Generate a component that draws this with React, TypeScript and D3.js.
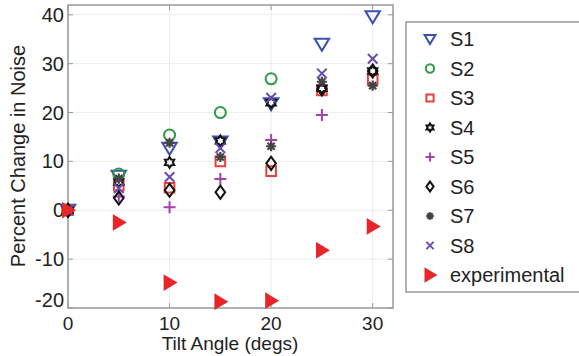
import React from "react";
import * as d3 from "d3";

const angles = [0, 5, 10, 15, 20, 25, 30];
const s1 = [0, 7, 12.7, 14, 21.8, 34, 39.6];
const s2 = [0, 7.4, 15.4, 20, 26.9, null, null];
const s3 = [0, 5, 4.6, 10, 8, 24.5, 26.7];
const s4 = [0, 5.8, 9.8, 14.2, 22, 25, 28.5];
const s5 = [0, 2.8, 0.6, 6.4, 14.4, 19.5, null];
const s6 = [0, 2.5, 4.1, 3.7, 9.6, 24.8, 28.5];
const s7 = [0, 6.5, 13.8, 10.9, 13.1, 26.3, 25.5];
const s8 = [0, 4.5, 6.8, 12.7, 23, 28, 31];
const experimental = [0, -2.5, -14.8, -18.7, -18.5, -8.2, -3.3];

const seriesNames = ["S1", "S2", "S3", "S4", "S5", "S6", "S7", "S8", "experimental"];
const seriesValues = [s1, s2, s3, s4, s5, s6, s7, s8, experimental];
const seriesColors = ["#3a4fb0", "#2f9a47", "#e8403a", "#111111", "#a640b0", "#111111", "#444444", "#6a4caf", "#e8262a"];
const seriesShapes = ["triDown", "circle", "square", "hexagram", "plus", "diamond", "star", "x", "triRight"];

const xTicks = [0, 10, 20, 30];
const yTicks = [-20, -10, 0, 10, 20, 30, 40];

function markerPath(shape: string, s: number): string {
  const p = d3.path();
  if (shape === "triDown") {
    p.moveTo(-s * 0.6, -s * 0.45); p.lineTo(s * 0.6, -s * 0.45); p.lineTo(0, s * 0.55); p.closePath();
  } else if (shape === "triRight") {
    p.moveTo(-s * 0.45, -s * 0.6); p.lineTo(s * 0.55, 0); p.lineTo(-s * 0.45, s * 0.6); p.closePath();
  } else if (shape === "circle") {
    p.arc(0, 0, s * 0.46, 0, Math.PI * 2);
  } else if (shape === "square") {
    const h = s * 0.4; p.rect(-h, -h, 2 * h, 2 * h);
  } else if (shape === "diamond") {
    p.moveTo(0, -s * 0.55); p.lineTo(s * 0.4, 0); p.lineTo(0, s * 0.55); p.lineTo(-s * 0.4, 0); p.closePath();
  } else if (shape === "plus") {
    const h = s * 0.5; p.moveTo(-h, 0); p.lineTo(h, 0); p.moveTo(0, -h); p.lineTo(0, h);
  } else if (shape === "x") {
    const h = s * 0.4; p.moveTo(-h, -h); p.lineTo(h, h); p.moveTo(-h, h); p.lineTo(h, -h);
  } else if (shape === "star") {
    const h = s * 0.42;
    for (let k = 0; k < 4; k++) {
      const a = (k * Math.PI) / 4;
      p.moveTo(-h * Math.cos(a), -h * Math.sin(a)); p.lineTo(h * Math.cos(a), h * Math.sin(a));
    }
  } else if (shape === "hexagram") {
    const ro = s * 0.45, ri = s * 0.27;
    for (let k = 0; k < 12; k++) {
      const a = -Math.PI / 2 + (k * Math.PI) / 6;
      const r = k % 2 === 0 ? ro : ri;
      if (k === 0) p.moveTo(r * Math.cos(a), r * Math.sin(a)); else p.lineTo(r * Math.cos(a), r * Math.sin(a));
    }
    p.closePath();
  }
  return p.toString();
}

function Marker({ shape, color, x, y, s }: { shape: string; color: string; x: number; y: number; s: number }) {
  const filled = shape === "triRight";
  return (
    <path
      d={markerPath(shape, s)}
      transform={`translate(${x},${y})`}
      fill={filled ? color : "none"}
      stroke={color}
      strokeWidth={shape === "star" ? 2.2 : 2}
      strokeLinejoin="miter"
    />
  );
}

export default function App() {
  const W = 579, H = 356;
  const left = 68, right = 393, top = 5, bottom = 308;
  const x = d3.scaleLinear().domain([0, 32]).range([left, right]);
  const y = d3.scaleLinear().domain([-20, 42]).range([bottom, top]);
  const font = "'Liberation Sans', Arial, Helvetica, sans-serif";
  const tickLen = 5;

  return (
    <svg width={W} height={H} style={{ position: "absolute", left: 0, top: 0, background: "#fff" }} fontFamily={font}>
      <rect x={0} y={0} width={W} height={H} fill="#fff" />
      {xTicks.map((t) => (
        <line key={"gx" + t} x1={x(t)} x2={x(t)} y1={top} y2={bottom} stroke="#ececec" strokeWidth={1} />
      ))}
      {yTicks.map((t) => (
        <line key={"gy" + t} x1={left} x2={right} y1={y(t)} y2={y(t)} stroke="#ececec" strokeWidth={1} />
      ))}
      {xTicks.map((t) => (
        <g key={"tx" + t}>
          <line x1={x(t)} x2={x(t)} y1={bottom} y2={bottom - tickLen} stroke="#999" strokeWidth={1} />
          <line x1={x(t)} x2={x(t)} y1={top} y2={top + tickLen} stroke="#999" strokeWidth={1} />
          <text x={x(t)} y={330} textAnchor="middle" fontSize={19} fill="#222">{t}</text>
        </g>
      ))}
      {yTicks.map((t) => (
        <g key={"ty" + t}>
          <line x1={left} x2={left + tickLen} y1={y(t)} y2={y(t)} stroke="#999" strokeWidth={1} />
          <line x1={right} x2={right - tickLen} y1={y(t)} y2={y(t)} stroke="#999" strokeWidth={1} />
          <text x={left - 4} y={t === -20 ? y(t) - 1 : y(t) + 7} textAnchor="end" fontSize={20} fill="#222">{t}</text>
        </g>
      ))}
      <rect x={left} y={top} width={right - left} height={bottom - top} fill="none" stroke="#999" strokeWidth={1.5} />
      {seriesValues.map((vals, si) =>
        vals.map((v, i) =>
          v === null ? null : (
            <Marker key={si + "-" + i} shape={seriesShapes[si]} color={seriesColors[si]} x={x(angles[i])} y={y(v as number)} s={si === 8 ? 11 : 12} />
          )
        )
      )}
      <text x={230} y={350} textAnchor="middle" fontSize={19} fill="#222">Tilt Angle (degs)</text>
      <text transform={`translate(25,${156}) rotate(-90)`} textAnchor="middle" fontSize={20} fill="#222">Percent Change in Noise</text>
      <rect x={406} y={22} width={200} height={270} fill="#fff" stroke="#999" strokeWidth={1.5} />
      {seriesNames.map((n, i) => {
        const ly = 39 + i * 29.5;
        return (
          <g key={"lg" + n}>
            <Marker shape={seriesShapes[i]} color={seriesColors[i]} x={430} y={ly} s={i === 8 ? 10 : 9} />
            <text x={450} y={ly + 7} fontSize={20} fill="#222">{n}</text>
          </g>
        );
      })}
    </svg>
  );
}
